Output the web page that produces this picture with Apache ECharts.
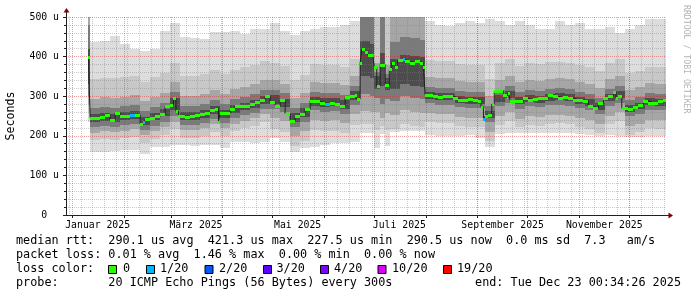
<!DOCTYPE html>
<html><head><meta charset="utf-8">
<script src="https://cdn.jsdelivr.net/npm/echarts@6/dist/echarts.min.js"></script>
<style>html,body{margin:0;padding:0;background:#fff}#c{width:697px;height:297px}</style>
</head><body><div id="c"></div>
<script>
// ---- time frame (days since 2025-01-01 UTC) ----
const DAY = 86400000;
const T0 = Date.UTC(2025, 0, 1);
const START = Date.UTC(2024, 11, 28, 0, 34, 26);
const END = Date.UTC(2025, 11, 23, 0, 34, 26);

// ---- median RTT (us), step buckets starting at medDays ----
const medDays = [9.5,10.5,13.5,16.5,19.5,22.5,25.5,28.5,31.5,34.5,
37.5,40.5,42.5,43.5,46.5,49.5,52.5,55.5,58.5,60.5,
62,63.5,67.5,70.5,73.5,76.5,79.5,82.5,85.5,87.5,
88.5,91.5,94.5,97.5,100.5,103.5,106.5,109.5,112.5,115.5,
118.5,121.5,124.5,127.5,130.5,133.5,136.5,139.5,142.5,145.5,
148.5,151.5,154.5,157.5,160.5,163.5,166.5,169.5,170.5,172.5,
173.5,175.5,177,180,181,182.5,184.5,187.5,190,191.5,
193.5,195,198,199.5,202.5,205.5,208.5,210.5,211.5,213.5,
216.5,219.5,222.5,225.5,228.5,231.5,234.5,237.5,240.5,243.5,
245,246.5,247.5,249.5,251.5,253,255.5,258.5,260.5,261.5,
262.5,264.5,267.5,270.5,273.5,276.5,279.5,282.5,285.5,288.5,
291.5,294.5,297.5,300.5,303.5,306.5,309.5,312.5,315.5,318.5,
321.5,324.5,326,327.5,329.5,333.5,336.5,339.5,342.5,345.5,
348.5,351.5,354.5];
const medVals = [400,244,244,247,253,240,258,250,249,253,
253,230,234,242,246,250,254,274,278,296,
262,250,248,250,252,255,257,265,268,235,
257,258,267,274,274,275,280,285,291,300,
285,276,290,255,238,250,256,267,288,287,
284,280,282,281,275,297,301,304,293,383,
418,412,405,405,373,325,380,328,368,383,
375,391,393,388,385,388,384,373,303,303,
300,297,300,300,295,290,290,292,290,288,
272,242,250,253,280,312,313,303,297,309,
289,288,287,295,290,292,295,296,303,300,
296,297,295,291,290,289,275,270,282,296,
300,310,296,300,270,267,273,279,288,284,
283,288,290];
// buckets with packet loss (count of lost pings out of 20)
const lossDays = [34.5, 42.5, 151.5, 180, 198, 246.5];
const lossCounts = [1, 1, 1, 1, 1, 1];

// ---- smoke (ping spread, us), step buckets starting at bandDays ----
const bandDays = [9.5,10.5,16.5,22.5,28.5,34.5,40.5,46.5,52.5,58.5,
64.5,70.5,76.5,82.5,88.5,94.5,100.5,106.5,112.5,118.5,
124.5,130.5,136.5,142.5,148.5,154.5,160.5,166.5,172.5,178.5,
181,184.5,187.5,190.5,196.5,202.5,208.5,211.5,217.5,223.5,
229.5,235.5,241.5,247.5,253.5,259.5,265.5,271.5,277.5,283.5,
289.5,295.5,301.5,307.5,313.5,319.5,325.5,331.5,337.5,343.5,
349.5];
const pMax = [520,438,440,452,432,420,415,420,465,485,450,448,445,462,462,465,458,470,470,485,465,455,465,470,475,475,480,490,560,560,560,560,560,560,560,560,560,490,480,478,485,490,485,495,490,480,490,480,470,470,490,480,485,470,470,475,460,470,480,495,495];
const pHi2 = [510,344,347,345,349,352,337,348,358,385,350,350,355,365,355,367,374,380,390,385,377,340,353,381,378,379,373,395,560,560,560,560,560,560,560,560,560,391,388,388,381,378,378,343,383,393,377,383,381,386,387,385,378,373,363,385,393,358,364,375,373];
const pHi3 = [500,294,297,295,299,302,287,298,308,335,300,300,305,315,305,317,324,330,340,340,332,295,308,336,333,334,328,350,560,560,385,560,380,520,520,520,520,349,346,346,339,336,336,301,341,351,335,341,339,344,345,343,336,331,321,343,351,316,322,333,331];
const pHi4 = [480,269,272,270,274,277,262,273,283,310,275,275,280,290,280,292,299,305,315,315,307,270,283,311,308,309,303,325,560,560,360,560,355,438,450,446,443,324,321,321,314,311,311,276,316,326,310,316,314,319,320,318,311,306,296,318,326,291,297,308,306];
const pHi5 = [420,254,257,255,259,262,247,258,268,295,260,260,265,275,265,277,284,290,300,302,294,257,270,298,295,296,290,312,440,432,352,410,345,393,405,401,398,311,308,308,301,298,298,263,303,313,297,303,301,306,307,305,298,293,283,305,313,278,284,295,293];
const pLo5 = [330,235,238,236,240,243,228,239,249,265,241,241,246,256,246,258,265,271,281,280,272,235,248,276,273,274,268,290,350,345,318,325,315,318,330,326,323,294,291,291,284,281,281,246,286,296,280,286,284,289,290,288,281,276,266,288,296,261,267,278,276];
const pLo4 = [300,222,225,223,227,230,215,226,236,250,228,228,233,243,233,245,252,258,268,268,260,223,236,264,261,262,256,278,305,300,295,280,292,288,300,296,293,282,279,279,272,269,269,234,274,284,268,274,272,277,278,276,269,264,254,276,284,249,255,266,264];
const pLo3 = [280,208,211,209,213,216,201,212,222,236,214,214,219,229,219,231,238,244,254,245,237,200,213,241,238,239,233,255,262,260,260,245,258,253,265,261,258,257,254,254,247,244,244,209,249,259,243,249,247,252,253,251,244,239,229,251,259,224,230,241,239];
const pLo2 = [260,189,192,190,194,197,182,193,203,218,195,195,200,210,200,212,219,225,235,218,210,173,186,214,211,212,206,228,230,230,215,225,215,218,230,226,223,236,233,233,226,223,223,188,228,238,222,228,226,231,232,230,223,218,208,230,238,203,209,220,218];
const pMin = [235,160,160,162,165,165,153,172,172,178,176,175,176,176,168,184,184,183,185,194,185,160,168,172,176,181,183,185,206,206,170,205,175,210,212,212,212,202,200,200,200,202,195,172,205,207,208,208,208,208,206,206,205,202,200,202,200,196,198,200,200];

// ---- axis labels ----
const xLabelText = ['Januar 2025','März 2025','Mai 2025','Juli 2025','September 2025','November 2025'];
const xLabelMonth = [0, 2, 4, 6, 8, 10];
const yMin = 0, yMax = 500, yStep = 100;

// ---- legend texts ----
const legendLines = [
  'median rtt:  290.1 us avg  421.3 us max  227.5 us min  290.5 us now  0.0 ms sd  7.3   am/s',
  'packet loss: 0.01 % avg  1.46 % max  0.00 % min  0.00 % now',
  'loss color:',
  'probe:       20 ICMP Echo Pings (56 Bytes) every 300s'
];
const endText = 'end: Tue Dec 23 00:34:26 2025';
const lossLegend = [['0','#26ff00'],['1/20','#00b8ff'],['2/20','#0059ff'],['3/20','#5e00ff'],['4/20','#7e00ff'],['10/20','#dd00ff'],['19/20','#ff0000']];
const lossBoxX = [108,146,204.5,263,320,377.5,443];
const lossTextX = [123,160,219,276.5,334,392,457];

// ================= build =================
const dayToMs = d => T0 + d * DAY;
const lastDay = (END - T0) / DAY;
const monthStarts = []; for (let m = 0; m < 12; m++) monthStarts.push(Date.UTC(2025, m, 1));
const mondays = []; for (let t = Date.UTC(2024, 11, 30); t < END; t += 7 * DAY) mondays.push(t);
const xLabelVals = xLabelMonth.map(m => Date.UTC(2025, m, 16));

function lossColor(n){
  if (n <= 0) return '#26ff00';
  if (n <= 1) return '#00b8ff';
  if (n <= 2) return '#0059ff';
  if (n <= 3) return '#5e00ff';
  if (n <= 4) return '#7e00ff';
  if (n <= 10) return '#dd00ff';
  return '#ff0000';
}

const bandColors = ['#dddddd','#c8c8c8','#a6a6a6','#7a7a7a','#4c4c4c'];
const bandPairs = [[pMin,pMax],[pLo2,pHi2],[pLo3,pHi3],[pLo4,pHi4],[pLo5,pHi5]];
function bandData(lo, hi){
  return bandDays.map((d, i) => [dayToMs(d), dayToMs(i + 1 < bandDays.length ? bandDays[i + 1] : lastDay), lo[i], hi[i]]);
}
function bandRenderer(color){
  return function(params, api){
    const cs = params.coordSys;
    const p0 = api.coord([api.value(0), api.value(2)]);
    const p1 = api.coord([api.value(1), api.value(3)]);
    const x0 = Math.round(p0[0]), x1 = Math.round(p1[0]);
    const yb = Math.min(Math.round(p0[1]), cs.y + cs.height);
    const yt = Math.max(Math.round(p1[1]), cs.y);
    return {type:'rect', shape:{x:x0, y:yt, width:Math.max(0, x1 - x0), height:Math.max(0, yb - yt)}, style:{fill:color}};
  };
}
const medData = medDays.map((d, i) => {
  const li = lossDays.indexOf(d);
  return [dayToMs(d), dayToMs(i + 1 < medDays.length ? medDays[i + 1] : lastDay), medVals[i], li >= 0 ? lossCounts[li] : 0];
});
const medLine = medDays.map((d, i) => [dayToMs(d), medVals[i]]).concat([[END, medVals[medVals.length - 1]]]);

const series = bandPairs.map((pr, k) => ({
  type:'custom', xAxisIndex:0, yAxisIndex:0, z:1, silent:true, animation:false,
  renderItem: bandRenderer(bandColors[k]), encode:{x:[0,1], y:[2,3]}, data: bandData(pr[0], pr[1])
}));
series.push({
  type:'line', xAxisIndex:0, yAxisIndex:0, z:5, silent:true, animation:false, step:'end',
  symbol:'none', lineStyle:{color:'#202020', width:1}, data: medLine
});
series.push({
  type:'custom', xAxisIndex:0, yAxisIndex:0, z:6, silent:true, animation:false,
  encode:{x:[0,1], y:2}, data: medData,
  renderItem: function(params, api){
    const p0 = api.coord([api.value(0), api.value(2)]);
    const p1 = api.coord([api.value(1), api.value(2)]);
    const x0 = Math.round(p0[0]), x1 = Math.round(p1[0]);
    const yc = Math.round(p0[1]);
    return {type:'rect', shape:{x:x0, y:yc - 1, width:Math.max(1, x1 - x0), height:3}, style:{fill: lossColor(api.value(3))}};
  }
});

const MONO = '"DejaVu Sans Mono"';
const LFONT = '11.8px ' + MONO;
const gridMinor = 'rgba(128,128,128,0.42)';
const gridMajor = 'rgba(215,40,40,0.45)';
const G = {left:66, top:17, width:600, height:198};

const graphic = [];
legendLines.forEach((t, r) => {
  graphic.push({type:'text', x:16, y:241 + r * 14, silent:true,
    style:{text:t, font:LFONT, fill:'#000', verticalAlign:'middle', textVerticalAlign:'middle'}});
});
graphic.push({type:'text', x:681, y:283, silent:true,
  style:{text:endText, font:LFONT, fill:'#000', align:'right', textAlign:'right', verticalAlign:'middle', textVerticalAlign:'middle'}});
lossLegend.forEach(([t, c], i) => {
  graphic.push({type:'rect', silent:true, shape:{x:lossBoxX[i] + 0.5, y:265.5, width:8, height:8}, style:{fill:c, stroke:'#000', lineWidth:1}});
  graphic.push({type:'text', x:lossTextX[i], y:269, silent:true,
    style:{text:t, font:LFONT, fill:'#000', verticalAlign:'middle', textVerticalAlign:'middle'}});
});
graphic.push({type:'text', x:686, y:5, rotation:-Math.PI/2, silent:true,
  style:{text:'RRDTOOL / TOBI OETIKER', font:'8.2px ' + MONO, fill:'#b4b4b4', verticalAlign:'middle', textVerticalAlign:'middle'}});
// axis arrows (decoration)
const ax = G.left + 0.5, ay = G.top + G.height + 0.5, ar = G.left + G.width;
graphic.push({type:'line', silent:true, shape:{x1:ax, y1:G.top, x2:ax, y2:G.top - 6}, style:{stroke:'#202020', lineWidth:1}});
graphic.push({type:'polygon', silent:true, shape:{points:[[ax - 3, G.top - 4.5],[ax + 3, G.top - 4.5],[ax, G.top - 9]]}, style:{fill:'#7f0000'}});
graphic.push({type:'line', silent:true, shape:{x1:ar, y1:ay, x2:ar + 3, y2:ay}, style:{stroke:'#202020', lineWidth:1}});
graphic.push({type:'polygon', silent:true, shape:{points:[[ar + 2.5, ay - 3],[ar + 2.5, ay + 3],[ar + 7, ay]]}, style:{fill:'#7f0000'}});

const option = {
  animation:false,
  backgroundColor:'#ffffff',
  grid: Object.assign({containLabel:false, outerBoundsMode:'none'}, G),
  xAxis: [
    { type:'value', min:START, max:END, position:'bottom', z:4,
      axisLine:{show:true, onZero:false, lineStyle:{color:'#202020', width:1}},
      axisTick:{show:true, customValues:monthStarts, length:3, lineStyle:{color:'#202020'}},
      axisLabel:{show:true, customValues:xLabelVals, margin:5, color:'#000', fontFamily:MONO, fontSize:9.8,
        formatter: v => { const i = xLabelVals.indexOf(v); return i >= 0 ? xLabelText[i] : ''; }},
      splitLine:{show:true, lineStyle:{color:gridMajor, width:1, type:[1,1]}}
    },
    { type:'value', min:START, max:END, position:'bottom', z:3,
      axisLine:{show:false, onZero:false},
      axisTick:{show:false, customValues:mondays},
      axisLabel:{show:false},
      splitLine:{show:true, lineStyle:{color:gridMinor, width:1, type:[1,1]}}
    }
  ],
  yAxis: [
    { type:'value', min:yMin, max:yMax, interval:yStep, position:'left', z:4,
      name:'Seconds', nameLocation:'middle', nameGap:49,
      nameTextStyle:{fontFamily:MONO, fontSize:11.6, color:'#000'},
      axisLine:{show:true, onZero:false, lineStyle:{color:'#202020', width:1}},
      axisTick:{show:true, length:3, lineStyle:{color:'#202020'}},
      minorTick:{show:true, splitNumber:5, length:2, lineStyle:{color:'#202020'}},
      axisLabel:{margin:7, color:'#000', fontFamily:MONO, fontSize:9.8,
        formatter: v => v === 0 ? '0  ' : v + ' u'},
      splitLine:{show:true, lineStyle:{color:gridMajor, width:1, type:[1,1]}},
      minorSplitLine:{show:true, lineStyle:{color:gridMinor, width:1, type:[1,1]}}
    }
  ],
  graphic: graphic,
  series: series
};
const chart = echarts.init(document.getElementById('c'), null, {renderer:'canvas'});
chart.setOption(option);
</script>
</body></html>
